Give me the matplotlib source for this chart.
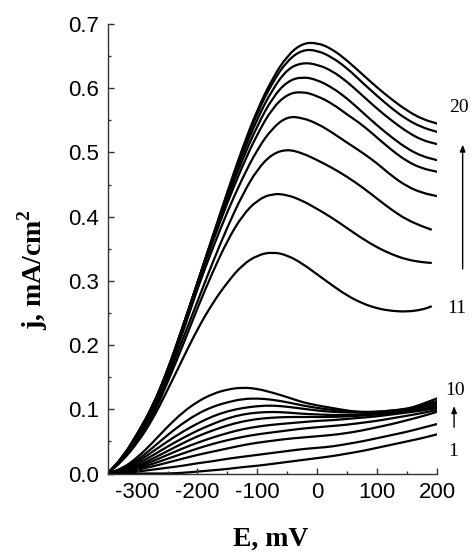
import matplotlib
matplotlib.use("Agg")
import matplotlib.pyplot as plt
from matplotlib.path import Path
from matplotlib.patches import PathPatch, FancyArrowPatch
from matplotlib.ticker import MultipleLocator

plt.rcParams["axes.unicode_minus"] = False

# potential, mV
E = [-350, -325, -300, -275, -250, -225, -200, -175, -150, -125, -100, -75,
     -50, -25, 0, 25, 50, 75, 100, 125, 150, 175, 200]

# curves 1..10 (bottom group), j in mA/cm2
lower_curves = [
    [0, 0, 0, 0, 0, 0.001, 0.003, 0.005, 0.007, 0.010, 0.012, 0.015, 0.018, 0.021, 0.024, 0.027, 0.031, 0.035, 0.040, 0.045, 0.050, 0.055, 0.061],
    [0, 0.001, 0.003, 0.006, 0.009, 0.012, 0.016, 0.019, 0.023, 0.026, 0.029, 0.032, 0.035, 0.038, 0.040, 0.042, 0.046, 0.050, 0.055, 0.060, 0.065, 0.071, 0.077],
    [0, 0.002, 0.006, 0.011, 0.017, 0.023, 0.029, 0.034, 0.039, 0.044, 0.048, 0.051, 0.054, 0.056, 0.058, 0.060, 0.063, 0.067, 0.072, 0.077, 0.083, 0.089, 0.096],
    [0, 0.003, 0.008, 0.015, 0.023, 0.031, 0.039, 0.046, 0.052, 0.057, 0.061, 0.064, 0.067, 0.070, 0.072, 0.074, 0.076, 0.079, 0.082, 0.086, 0.090, 0.094, 0.099],
    [0, 0.003, 0.010, 0.019, 0.029, 0.039, 0.048, 0.056, 0.063, 0.069, 0.073, 0.076, 0.078, 0.080, 0.082, 0.083, 0.085, 0.087, 0.089, 0.092, 0.095, 0.098, 0.102],
    [0, 0.004, 0.012, 0.023, 0.035, 0.047, 0.058, 0.067, 0.075, 0.081, 0.085, 0.087, 0.088, 0.088, 0.088, 0.088, 0.089, 0.090, 0.092, 0.094, 0.097, 0.100, 0.105],
    [0, 0.005, 0.015, 0.028, 0.042, 0.055, 0.067, 0.077, 0.086, 0.092, 0.095, 0.096, 0.095, 0.093, 0.092, 0.091, 0.091, 0.092, 0.094, 0.096, 0.099, 0.103, 0.108],
    [0, 0.006, 0.018, 0.034, 0.050, 0.065, 0.078, 0.089, 0.097, 0.102, 0.105, 0.106, 0.104, 0.101, 0.098, 0.096, 0.095, 0.095, 0.096, 0.098, 0.100, 0.104, 0.110],
    [0, 0.007, 0.021, 0.040, 0.060, 0.078, 0.093, 0.104, 0.111, 0.116, 0.117, 0.115, 0.111, 0.106, 0.102, 0.099, 0.097, 0.096, 0.096, 0.098, 0.101, 0.106, 0.113],
    [0, 0.008, 0.025, 0.048, 0.073, 0.095, 0.112, 0.124, 0.131, 0.134, 0.132, 0.126, 0.119, 0.111, 0.106, 0.102, 0.098, 0.095, 0.094, 0.096, 0.100, 0.108, 0.117],
]

# curves 11..20 (top group)
upper_curves = [
    [0, 0.020, 0.048, 0.084, 0.130, 0.178, 0.225, 0.265, 0.298, 0.325, 0.340, 0.345, 0.340, 0.327, 0.310, 0.293, 0.277, 0.265, 0.257, 0.253, 0.252, 0.255, 0.260],
    [0, 0.021, 0.050, 0.088, 0.142, 0.198, 0.258, 0.313, 0.363, 0.402, 0.426, 0.436, 0.434, 0.425, 0.412, 0.398, 0.382, 0.366, 0.352, 0.341, 0.333, 0.329, 0.328],
    [0, 0.022, 0.054, 0.093, 0.148, 0.208, 0.268, 0.328, 0.384, 0.434, 0.474, 0.498, 0.505, 0.499, 0.488, 0.476, 0.462, 0.446, 0.428, 0.410, 0.395, 0.385, 0.380],
    [0, 0.023, 0.057, 0.098, 0.153, 0.218, 0.288, 0.350, 0.408, 0.460, 0.505, 0.538, 0.556, 0.554, 0.545, 0.531, 0.515, 0.500, 0.483, 0.463, 0.447, 0.437, 0.432],
    [0, 0.024, 0.060, 0.102, 0.158, 0.224, 0.294, 0.360, 0.422, 0.479, 0.529, 0.569, 0.591, 0.595, 0.588, 0.576, 0.559, 0.543, 0.523, 0.503, 0.486, 0.475, 0.470],
    [0, 0.025, 0.062, 0.104, 0.160, 0.227, 0.297, 0.366, 0.429, 0.489, 0.542, 0.585, 0.611, 0.618, 0.613, 0.601, 0.584, 0.563, 0.542, 0.523, 0.506, 0.494, 0.488],
    [0, 0.025, 0.062, 0.104, 0.160, 0.227, 0.297, 0.367, 0.434, 0.497, 0.553, 0.598, 0.630, 0.640, 0.637, 0.627, 0.610, 0.589, 0.568, 0.549, 0.532, 0.519, 0.513],
    [0, 0.025, 0.062, 0.104, 0.160, 0.227, 0.297, 0.368, 0.437, 0.503, 0.562, 0.609, 0.643, 0.660, 0.659, 0.648, 0.631, 0.609, 0.588, 0.568, 0.551, 0.539, 0.532],
    [0, 0.025, 0.062, 0.104, 0.160, 0.227, 0.297, 0.368, 0.439, 0.507, 0.567, 0.615, 0.651, 0.670, 0.671, 0.661, 0.643, 0.622, 0.601, 0.582, 0.565, 0.552, 0.545],
]
# last potential of each top curve (some stop a little short)
upper_last_E = [190, 190, 190, 200, 200, 200, 200, 200, 200]


def smooth_curve(ax, xs, ys):
    # quadratic b-spline through the read points, drawn in data coords
    pts = list(zip(xs, ys))
    verts = [pts[0]]
    codes = [Path.MOVETO]
    mid = lambda a, b: ((a[0] + b[0]) / 2, (a[1] + b[1]) / 2)
    verts.append(mid(pts[0], pts[1]))
    codes.append(Path.LINETO)
    for i in range(1, len(pts) - 1):
        verts += [pts[i], mid(pts[i], pts[i + 1])]
        codes += [Path.CURVE3, Path.CURVE3]
    verts.append(pts[-1])
    codes.append(Path.LINETO)
    ax.add_patch(PathPatch(Path(verts, codes), fill=False, edgecolor="black",
                           lw=1.6, capstyle="round", joinstyle="round"))


fig = plt.figure(figsize=(4.75, 5.54), dpi=100)
ax = fig.add_axes([0.2267, 0.1453, 0.6933, 0.8114])

for j in lower_curves:
    smooth_curve(ax, E, j)
for j, e_end in zip(upper_curves, upper_last_E):
    smooth_curve(ax, E[:-1] + [e_end], j)

ax.set_xlim(-350, 200)
ax.set_ylim(0, 0.7)
ax.spines["top"].set_visible(False)
ax.spines["right"].set_visible(False)
for s in ["left", "bottom"]:
    ax.spines[s].set_linewidth(1.0)
    ax.spines[s].set_color("#333333")

ax.xaxis.set_major_locator(MultipleLocator(100))
ax.xaxis.set_minor_locator(MultipleLocator(50))
ax.yaxis.set_major_locator(MultipleLocator(0.1))
ax.yaxis.set_minor_locator(MultipleLocator(0.05))
ax.set_xticks([-300, -200, -100, 0, 100, 200])
ax.yaxis.set_major_formatter(plt.FormatStrFormatter("%.1f"))
ax.tick_params(which="major", direction="in", length=4.5, width=1.0, pad=6,
               labelsize=16, color="#333333")
ax.tick_params(which="minor", direction="in", length=2.5, width=1.0, color="#333333")
for lab in ax.get_xticklabels() + ax.get_yticklabels():
    lab.set_fontfamily("Liberation Sans")

serif = "Liberation Serif"
plt.rcParams["mathtext.fontset"] = "custom"
plt.rcParams["mathtext.bf"] = "Liberation Serif:bold"
fig.text(0.571, 0.027, "E, mV", fontsize=20, fontweight="bold", family=serif,
         ha="center", va="center")
fig.text(0.068, 0.513, "j, mA/cm$^\\mathbf{2}$", fontsize=20, fontweight="bold",
         family=serif, rotation=90, ha="center", va="center")

# curve numbers and arrows
fig.text(0.966, 0.806, "20", fontsize=14, family=serif, ha="center", va="center")
fig.text(0.961, 0.4435, "11", fontsize=14, family=serif, ha="center", va="center")
fig.text(0.958, 0.296, "10", fontsize=14, family=serif, ha="center", va="center")
fig.text(0.954, 0.1846, "1", fontsize=14, family=serif, ha="center", va="center")
fig.add_artist(FancyArrowPatch(
    (0.974, 0.5096), (0.974, 0.744), transform=fig.transFigure,
    arrowstyle="-|>,head_length=4,head_width=1.6", color="black", lw=1.0))
fig.add_artist(FancyArrowPatch(
    (0.956, 0.2238), (0.956, 0.272), transform=fig.transFigure,
    arrowstyle="-|>,head_length=4,head_width=1.6", color="black", lw=1.0))

fig.savefig("out.png", dpi=100)
